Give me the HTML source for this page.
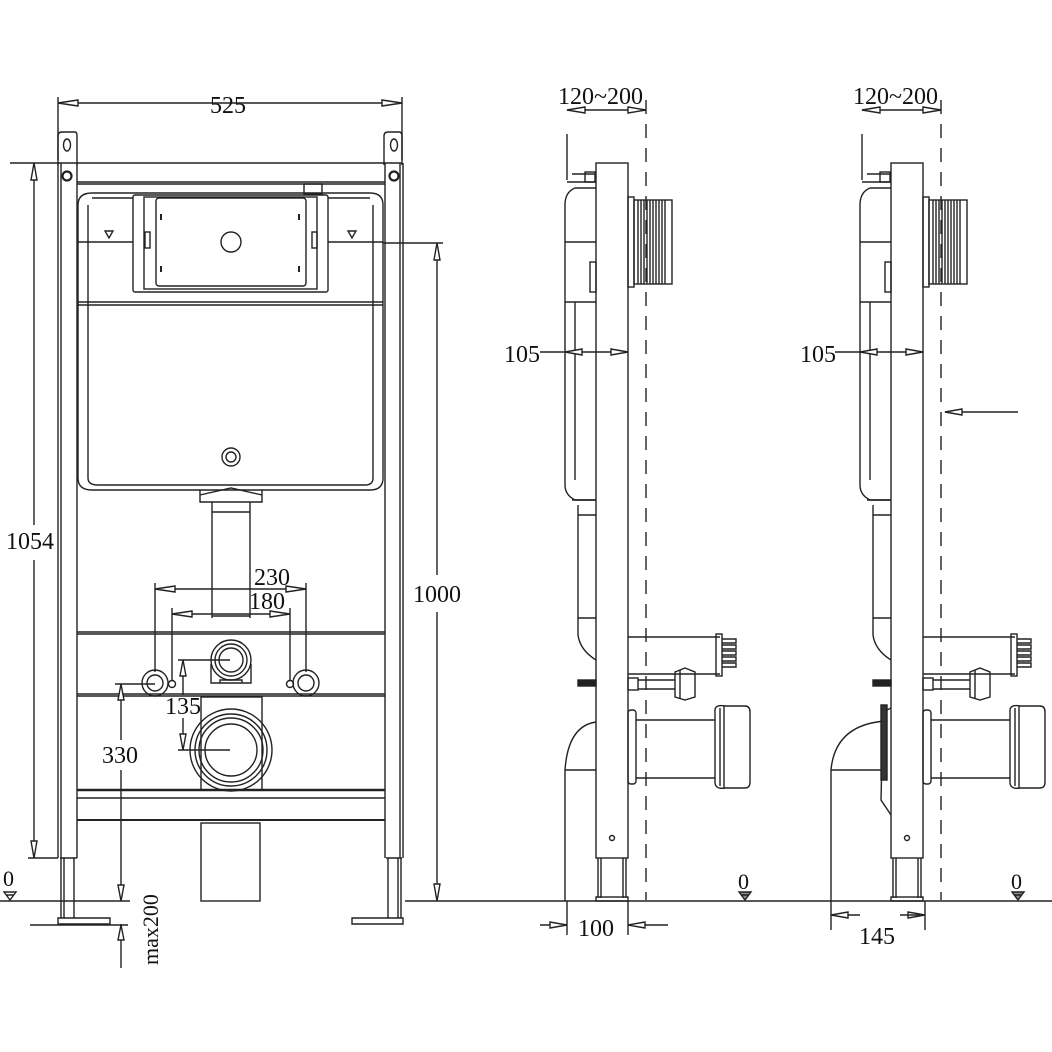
<!DOCTYPE html>
<html><head><meta charset="utf-8"><style>
html,body{margin:0;padding:0;background:#fff;}
svg{display:block;}
text{font-family:"Liberation Serif",serif;fill:#111;}
</style></head><body>
<svg width="1052" height="1052" viewBox="0 0 1052 1052" xmlns="http://www.w3.org/2000/svg">
<defs>
<g id="side" fill="none" stroke="#222" stroke-width="1.4">
  <path d="M567,180 L567,134 M567,182 L596,182 M572,174 L596,174"/>
  <rect x="585" y="172" width="10" height="10"/>
  <path d="M596,188 L575,188 Q565,192 565,205 L565,485 Q565,495 575,500 L596,500"/>
  <line x1="565" y1="242" x2="596" y2="242"/>
  <line x1="565" y1="302" x2="596" y2="302"/>
  <line x1="575" y1="302" x2="575" y2="480"/>
  <rect x="590" y="262" width="6" height="30"/>
  <path d="M572,500 L596,500 M578,505 L578,635 Q580,650 596,660 M578,515 L596,515 M578,618 L596,618"/>
  <rect x="578" y="680" width="18" height="6" fill="#222"/>
  <rect x="596" y="163" width="32" height="695"/>
  <path d="M598,858 L598,898 M626,858 L626,898 M601,858 L601,898 M623,858 L623,898"/>
  <rect x="596" y="897" width="32" height="4"/>
  <circle cx="612" cy="838" r="2.5"/>
  <rect x="628" y="197" width="6" height="90"/>
  <rect x="634" y="200" width="38" height="84"/>
  <path d="M638,200V284M641,200V284M644,200V284M647,200V284M650,200V284M653,200V284M656,200V284M659,200V284M662,200V284M665,200V284"/>
  <line x1="646" y1="100" x2="646" y2="900" stroke-dasharray="14,10"/>
  <path d="M628,637 L720,637 M628,674 L720,674"/>
  <rect x="716" y="634" width="6" height="42"/>
  <path d="M722,639h14v4h-14M722,645h14v4h-14M722,651h14v4h-14M722,657h14v4h-14M722,663h14v4h-14"/>
  <rect x="628" y="678" width="10" height="12"/>
  <path d="M638,680 L675,680 M638,689 L675,689"/>
  <path d="M675,672 L685,668 L695,672 L695,697 L685,700 L675,697 Z"/>
  <line x1="680" y1="670" x2="680" y2="698"/>
  <rect x="628" y="710" width="8" height="74" rx="3"/>
  <path d="M636,720 L715,720 M636,778 L715,778"/>
  <path d="M715,712 Q714,704 725,706 L745,706 Q750,706 750,712 L750,782 Q750,788 745,788 L725,788 Q714,790 715,780 Z"/>
  <path d="M720,708 L720,786 M724,706 L724,788"/>
  <line x1="540" y1="352" x2="628" y2="352"/>
  <path d="M565,352 L582,349 L582,355Z M628,352 L611,349 L611,355Z" fill="#fff"/>
  <line x1="567" y1="110" x2="646" y2="110"/>
  <path d="M567,110 L585,107 L585,113Z M646,110 L628,107 L628,113Z" fill="#fff"/>
</g>
</defs>

<g fill="none" stroke="#222" stroke-width="1.4">
<line x1="58" y1="97" x2="58" y2="160"/>
<line x1="402" y1="97" x2="402" y2="160"/>
<line x1="58" y1="103" x2="402" y2="103"/>
<path d="M58,103 L78,100 L78,106Z M402,103 L382,100 L382,106Z" fill="#fff"/>
<path d="M58,165 L58,136 Q58,132 62,132 L75,132 Q77,132 77,136 L77,165"/>
<ellipse cx="67" cy="145" rx="3.5" ry="6"/>
<path d="M384,165 L384,136 Q384,132 388,132 L399,132 Q402,132 402,136 L402,165"/>
<ellipse cx="394" cy="145" rx="3.5" ry="6"/>
<line x1="10" y1="163" x2="402" y2="163"/>
<line x1="77" y1="182" x2="385" y2="182"/>
<line x1="77" y1="184" x2="385" y2="184"/>
<circle cx="67" cy="176" r="4.5" stroke-width="2.2"/>
<circle cx="394" cy="176" r="4.5" stroke-width="2.2"/>
<line x1="58" y1="163" x2="58" y2="858"/>
<line x1="61" y1="163" x2="61" y2="858"/>
<line x1="77" y1="163" x2="77" y2="858"/>
<line x1="385" y1="163" x2="385" y2="858"/>
<line x1="400" y1="163" x2="400" y2="858"/>
<line x1="403" y1="163" x2="403" y2="858"/>
<path d="M60,858 L77,858 M61,858 L61,918 M74,858 L74,918 M64,858 L64,918"/>
<path d="M58,918 L110,918 L110,924 L58,924 Z"/>
<path d="M386,858 L402,858 M388,858 L388,918 M401,858 L401,918 M398,858 L398,918"/>
<path d="M352,918 L403,918 L403,924 L352,924 Z"/>
<path d="M78,205 Q78,193 92,193 L370,193 Q383,193 383,205 L383,478 Q383,490 370,490 L92,490 Q78,490 78,478 Z"/>
<path d="M88,205 L88,478 Q88,485 98,485 L365,485 Q373,485 373,478 L373,205"/>
<path d="M92,198 L133,198 M328,198 L370,198"/>
<line x1="78" y1="242" x2="133" y2="242"/>
<line x1="328" y1="242" x2="383" y2="242"/>
<line x1="78" y1="302" x2="383" y2="302"/>
<line x1="78" y1="305" x2="383" y2="305"/>
<path d="M105,231 L113,231 L109,238 Z"/>
<path d="M348,231 L356,231 L352,238 Z"/>
<rect x="133" y="195" width="195" height="97" rx="2"/>
<rect x="144" y="197" width="173" height="92"/>
<rect x="156" y="198" width="150" height="88" rx="3"/>
<circle cx="231" cy="242" r="10"/>
<path d="M161,214v6M299,214v6M161,266v6M299,266v6" stroke-width="2"/>
<rect x="145" y="232" width="5" height="16"/>
<rect x="312" y="232" width="5" height="16"/>
<rect x="304" y="184" width="18" height="10"/>
<circle cx="231" cy="457" r="9"/>
<circle cx="231" cy="457" r="5"/>
<path d="M200,490 L200,502 L262,502 L262,490 M200,495 L231,488 L262,495"/>
<path d="M212,502 L212,618 M250,502 L250,618 M212,512 L250,512 M212,616 L250,616"/>
<line x1="77" y1="632" x2="385" y2="632"/>
<line x1="77" y1="634" x2="385" y2="634"/>
<line x1="77" y1="694" x2="385" y2="694"/>
<line x1="77" y1="696" x2="385" y2="696"/>
<line x1="77" y1="790" x2="385" y2="790" stroke-width="2.5"/>
<line x1="77" y1="798" x2="385" y2="798"/>
<line x1="77" y1="820" x2="385" y2="820" stroke-width="2"/>
<circle cx="231" cy="660" r="20"/>
<circle cx="231" cy="660" r="16"/>
<circle cx="231" cy="660" r="12"/>
<path d="M211,664 L211,683 L251,683 L251,664 M220,683 L220,680 L242,680 L242,683"/>
<circle cx="155" cy="683" r="13"/><circle cx="155" cy="683" r="8"/>
<circle cx="306" cy="683" r="13"/><circle cx="306" cy="683" r="8"/>
<circle cx="172" cy="684" r="3.5"/>
<circle cx="290" cy="684" r="3.5"/>
<rect x="201" y="697" width="61" height="93"/>
<circle cx="231" cy="750" r="41"/>
<circle cx="231" cy="750" r="36"/>
<circle cx="231" cy="750" r="32"/>
<circle cx="231" cy="750" r="26"/>
<rect x="201" y="823" width="59" height="78"/>
<line x1="155" y1="583" x2="155" y2="672"/>
<line x1="306" y1="583" x2="306" y2="672"/>
<line x1="155" y1="589" x2="306" y2="589"/>
<path d="M155,589 L175,586 L175,592Z M306,589 L286,586 L286,592Z" fill="#fff"/>
<line x1="172" y1="608" x2="172" y2="680"/>
<line x1="290" y1="608" x2="290" y2="680"/>
<line x1="172" y1="614" x2="290" y2="614"/>
<path d="M172,614 L192,611 L192,617Z M290,614 L270,611 L270,617Z" fill="#fff"/>
<line x1="178" y1="660" x2="230" y2="660"/>
<line x1="178" y1="750" x2="230" y2="750"/>
<line x1="183" y1="660" x2="183" y2="695"/>
<line x1="183" y1="718" x2="183" y2="750"/>
<path d="M183,660 L180,676 L186,676Z M183,750 L180,734 L186,734Z" fill="#fff"/>
<line x1="115" y1="684" x2="155" y2="684"/>
<line x1="121" y1="684" x2="121" y2="740"/>
<line x1="121" y1="770" x2="121" y2="901"/>
<path d="M121,684 L118,700 L124,700Z M121,901 L118,885 L124,885Z" fill="#fff"/>
<line x1="121" y1="924" x2="121" y2="968"/>
<path d="M121,925 L118,940 L124,940Z" fill="#fff"/>
<line x1="30" y1="925" x2="128" y2="925"/>
<line x1="34" y1="163" x2="34" y2="525"/>
<line x1="34" y1="560" x2="34" y2="858"/>
<line x1="28" y1="858" x2="58" y2="858"/>
<path d="M34,163 L31,180 L37,180Z M34,858 L31,841 L37,841Z" fill="#fff"/>
<line x1="383" y1="243" x2="443" y2="243"/>
<line x1="437" y1="243" x2="437" y2="575"/>
<line x1="437" y1="612" x2="437" y2="901"/>
<path d="M437,243 L434,260 L440,260Z M437,901 L434,884 L440,884Z" fill="#fff"/>
<line x1="0" y1="901" x2="130" y2="901"/>
<line x1="405" y1="901" x2="1052" y2="901"/>
<path d="M4,892 L16,892 L10,900Z M6,895 L14,895" fill="#fff"/>

<use href="#side"/>
<use href="#side" transform="translate(295,0)"/>
<path d="M596,722 Q568,726 565,770 L565,901 M596,770 L565,770"/>
<line x1="567" y1="901" x2="567" y2="935"/>
<line x1="628" y1="901" x2="628" y2="935"/>
<line x1="540" y1="925" x2="567" y2="925"/>
<path d="M567,925 L550,922 L550,928Z" fill="#fff"/>
<line x1="668" y1="925" x2="628" y2="925"/>
<path d="M628,925 L645,922 L645,928Z" fill="#fff"/>
<path d="M739,892 L751,892 L745,900Z M741,895 L749,895" fill="#888"/>
<path d="M885,721 Q835,725 831,770 L831,901 M885,770 L831,770"/>
<path d="M891,708 L883,712 L881,800 L891,815"/>
<rect x="881" y="705" width="6" height="75" fill="#333"/>
<line x1="831" y1="901" x2="831" y2="930"/>
<line x1="925" y1="901" x2="925" y2="930"/>
<line x1="831" y1="915" x2="860" y2="915"/>
<path d="M831,915 L848,912 L848,918Z M925,915 L908,912 L908,918Z" fill="#fff"/>
<line x1="900" y1="915" x2="925" y2="915"/>
<line x1="1018" y1="412" x2="945" y2="412"/>
<path d="M945,412 L962,409 L962,415Z" fill="#fff"/>
<path d="M1012,892 L1024,892 L1018,900Z M1014,895 L1022,895" fill="#888"/>
</g>

<g font-size="24">
<text x="210" y="113">525</text>
<text x="558" y="104">120~200</text>
<text x="853" y="104">120~200</text>
<text x="504" y="362">105</text>
<text x="800" y="362">105</text>
<text x="6" y="549">1054</text>
<text x="413" y="602">1000</text>
<text x="254" y="585">230</text>
<text x="249" y="609">180</text>
<text x="165" y="714">135</text>
<text x="102" y="763">330</text>
<text x="578" y="936">100</text>
<text x="859" y="944">145</text>
<text x="3" y="886" font-size="22">0</text>
<text x="738" y="889" font-size="22">0</text>
<text x="1011" y="889" font-size="22">0</text>
<text transform="translate(158,965) rotate(-90)" font-size="22">max200</text>
</g>
</svg>
</body></html>
